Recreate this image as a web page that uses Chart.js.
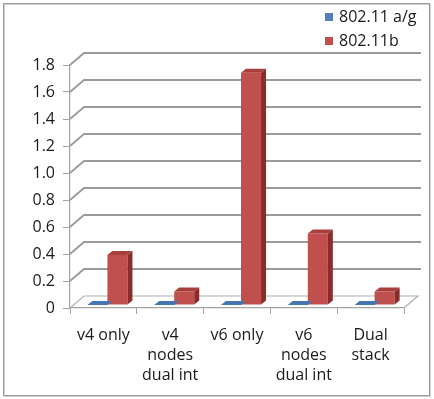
<!DOCTYPE html>
<html>
<head>
<meta charset="utf-8">
<script src="https://cdn.jsdelivr.net/npm/chart.js@4/dist/chart.umd.min.js"></script>
<style>
  body { margin: 0; background: #fff; }
  #wrap { width: 434px; height: 399px; }
</style>
</head>
<body>
<div id="wrap"><canvas id="chart" width="434" height="399"></canvas></div>
<script>
// categories and series
const categories = [['v4 only'], ['v4', 'nodes', 'dual int'], ['v6 only'], ['v6', 'nodes', 'dual int'], ['Dual', 'stack']];
const seriesAG = [0, 0, 0, 0, 0];               // 802.11 a/g
const seriesB = [0.37, 0.1, 1.72, 0.53, 0.1];   // 802.11b
const yTicks = [0, 0.2, 0.4, 0.6, 0.8, 1, 1.2, 1.4, 1.6, 1.8];

const FONT = "'Open Sans', 'Liberation Sans', sans-serif";
const WALL = { dx: 14, dy: -12 };   // back wall offset
const BAR = { dx: 5, dy: -4 };      // bar depth
const SHIFT = { x: 4, y: -3 };      // bars sit a bit into the box

// fake 3d: back wall, left wall, floor, bar tops and sides, legend
const box3d = {
  id: 'box3d',
  beforeDraw(chart) {
    const ctx = chart.ctx;
    ctx.save();
    ctx.fillStyle = '#fff';
    ctx.fillRect(0, 0, chart.width, chart.height);
    ctx.strokeStyle = '#d0d0d0';
    ctx.lineWidth = 1;
    ctx.strokeRect(4.5, 4.5, 426, 392);
    ctx.strokeStyle = '#9a9a9a';
    ctx.strokeRect(3.5, 3.5, 426, 392);
    ctx.restore();
  },
  beforeDatasetsDraw(chart) {
    const ctx = chart.ctx;
    const a = chart.chartArea;
    const y = chart.scales.y;
    ctx.save();
    ctx.strokeStyle = '#9a9a9a';
    ctx.lineWidth = 1.8;
    yTicks.forEach(v => {
      if (v === 0) return;
      const py = y.getPixelForValue(v);
      ctx.beginPath();
      ctx.moveTo(a.left, py);
      ctx.lineTo(a.left + WALL.dx, py + WALL.dy);
      ctx.lineTo(a.right + WALL.dx + 3, py + WALL.dy);
      ctx.stroke();
    });
    // floor
    ctx.lineWidth = 1.2;
    ctx.strokeStyle = '#b0b0b0';
    ctx.beginPath();
    ctx.moveTo(a.left, a.bottom);
    ctx.lineTo(a.left + WALL.dx, a.bottom + WALL.dy);
    ctx.lineTo(a.right + WALL.dx, a.bottom + WALL.dy);
    ctx.lineTo(a.right, a.bottom);
    ctx.stroke();
    ctx.restore();
    ctx.save();
    ctx.translate(SHIFT.x, SHIFT.y);
  },
  afterDatasetDraw(chart, args) {
    const ctx = chart.ctx;
    const ds = chart.data.datasets[args.index];
    args.meta.data.forEach(bar => {
      const p = bar.getProps(['x', 'y', 'base', 'width'], true);
      const l = p.x - p.width / 2, r = p.x + p.width / 2;
      // side
      ctx.fillStyle = ds.sideColor;
      ctx.beginPath();
      ctx.moveTo(r, p.y);
      ctx.lineTo(r + BAR.dx, p.y + BAR.dy);
      ctx.lineTo(r + BAR.dx, p.base + BAR.dy);
      ctx.lineTo(r, p.base);
      ctx.closePath();
      ctx.fill();
      // top
      ctx.fillStyle = ds.topColor;
      ctx.beginPath();
      ctx.moveTo(l, p.y);
      ctx.lineTo(l + BAR.dx, p.y + BAR.dy);
      ctx.lineTo(r + BAR.dx, p.y + BAR.dy);
      ctx.lineTo(r, p.y);
      ctx.closePath();
      ctx.fill();
    });
  },
  afterDatasetsDraw(chart) {
    chart.ctx.restore();
  },
  afterDraw(chart) {
    const ctx = chart.ctx;
    ctx.save();
    ctx.font = '16px ' + FONT;
    ctx.textBaseline = 'middle';
    ctx.textAlign = 'left';
    chart.data.datasets.forEach((ds, i) => {
      const cy = 17 + i * 24;
      ctx.fillStyle = ds.backgroundColor;
      ctx.fillRect(325, cy - 4, 8, 8);
      ctx.fillStyle = '#1a1a1a';
      ctx.fillText(ds.label, 339, cy);
    });
    ctx.restore();
  }
};

new Chart(document.getElementById('chart'), {
  type: 'bar',
  data: {
    labels: categories,
    datasets: [
      { label: '802.11 a/g', data: seriesAG, backgroundColor: '#4f81bd', topColor: '#4676b2', sideColor: '#2f5488' },
      { label: '802.11b', data: seriesB, backgroundColor: '#c0504d', topColor: '#a83f3c', sideColor: '#8a2d2a' }
    ]
  },
  plugins: [box3d],
  options: {
    responsive: false,
    animation: false,
    layout: { padding: { top: 65, right: 30, left: 0, bottom: 0 } },
    datasets: { bar: { categoryPercentage: 0.6, barPercentage: 1.0, clip: false } },
    plugins: { legend: { display: false }, tooltip: { enabled: false } },
    scales: {
      x: {
        grid: { display: true, drawOnChartArea: false, tickLength: 6, color: '#a3a3a3', offset: true },
        border: { display: true, color: '#a3a3a3', width: 1.2 },
        ticks: { color: '#1a1a1a', font: { family: FONT, size: 16, lineHeight: 1.25 }, padding: 11, maxRotation: 0, autoSkip: false },
        afterFit(scale) { scale.height = 91; }
      },
      y: {
        min: 0,
        max: 1.8,
        ticks: { stepSize: 0.2, color: '#1a1a1a', font: { family: FONT, size: 16 }, padding: 8 },
        grid: { display: true, drawOnChartArea: false, tickLength: 7, color: '#a3a3a3' },
        border: { display: true, color: '#a3a3a3', width: 1.2 },
        afterFit(scale) { scale.width = 70; }
      }
    }
  }
});
</script>
</body>
</html>
